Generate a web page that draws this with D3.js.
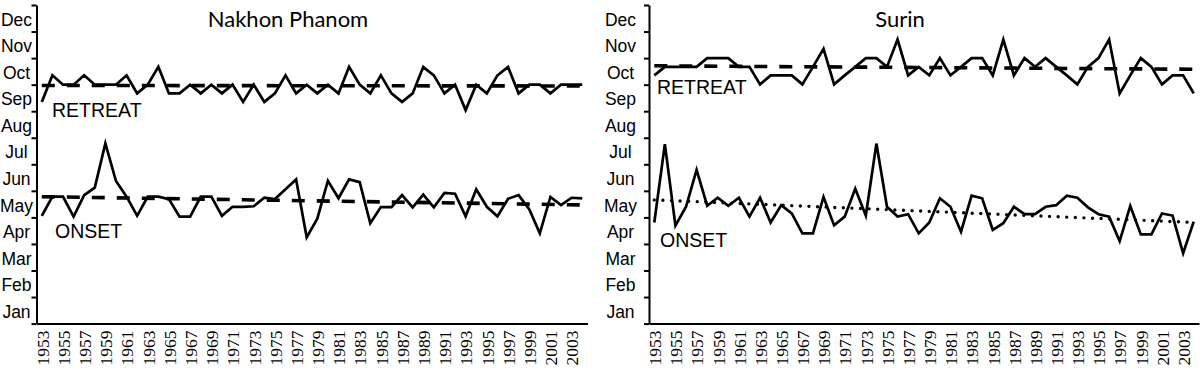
<!DOCTYPE html>
<html><head><meta charset="utf-8">
<script src="https://cdn.jsdelivr.net/npm/d3@7"></script>
<style>body{margin:0;background:#fff}svg{display:block}</style>
</head><body>
<svg id="c" width="1200" height="371"></svg>
<script>
const years = [1953,1954,1955,1956,1957,1958,1959,1960,1961,1962,1963,1964,1965,1966,1967,1968,1969,1970,1971,1972,1973,1974,1975,1976,1977,1978,1979,1980,1981,1982,1983,1984,1985,1986,1987,1988,1989,1990,1991,1992,1993,1994,1995,1996,1997,1998,1999,2000,2001,2002,2003,2004];
const months = ["Jan","Feb","Mar","Apr","May","Jun","Jul","Aug","Sep","Oct","Nov","Dec"];
const yearTicks = ["1953","1955","1957","1959","1961","1963","1965","1967","1969","1971","1973","1975","1977","1979","1981","1983","1985","1987","1989","1991","1993","1995","1997","1999","2001","2003"];

// values in months from 1 Jan (Jan = 0..1, Dec = 11..12)
const nakhonRetreat = [8.35,9.35,9,9,9.35,9,9,9,9.35,8.67,9,9.67,8.67,8.67,9,8.67,9,8.67,9,8.35,9,8.35,8.67,9.35,8.67,9,8.67,9,8.67,9.67,9,8.67,9.35,8.67,8.35,8.67,9.67,9.35,8.67,9,8.04,9,8.67,9.35,9.67,8.67,9,9,8.67,9,9,9];
const nakhonOnset = [4.06,4.78,4.78,4.03,4.84,5.12,6.79,5.37,4.78,4.06,4.78,4.78,4.69,4.03,4.03,4.78,4.78,4.06,4.40,4.40,4.42,4.74,4.69,5.06,5.43,3.25,3.95,5.38,4.72,5.43,5.33,3.78,4.39,4.39,4.84,4.38,4.86,4.38,4.92,4.89,4.04,5.06,4.40,4.04,4.70,4.84,4.31,3.40,4.77,4.46,4.74,4.72];
const surinRetreat = [9.35,9.67,9.67,9.67,9.67,10,10,10,9.67,9.67,9.01,9.35,9.35,9.35,9.01,9.67,10.35,9.01,9.35,9.67,10,10,9.67,10.7,9.35,9.67,9.35,10,9.35,9.67,10,10,9.35,10.7,9.35,10,9.67,10,9.67,9.35,9.01,9.67,10,10.7,8.67,9.35,10,9.67,9.01,9.35,9.35,8.67];
const surinOnset = [3.81,6.76,3.69,4.40,5.79,4.44,4.74,4.44,4.74,4.03,4.74,3.81,4.46,4.15,3.40,3.40,4.77,3.70,4.03,5.08,4.07,6.78,4.40,4.03,4.12,3.40,3.81,4.72,4.40,3.46,4.82,4.72,3.53,3.78,4.40,4.12,4.12,4.40,4.46,4.82,4.74,4.38,4.12,4.03,3.11,4.43,3.36,3.36,4.15,4.07,2.65,3.84];

const nakhonRetreatTrend = [8.97, 8.95];
const nakhonOnsetTrend = [4.78, 4.47];
const surinRetreatTrend = [9.71, 9.58];
const surinOnsetTrend = [4.66, 3.81];

const svg = d3.select("#c");
const y = d3.scaleLinear().domain([0, 12]).range([323.6, 5]);
const x1 = d3.scalePoint().domain(years).range([36.5, 587.5]).padding(0.5);
const x2 = d3.scalePoint().domain(years).range([649, 1199]).padding(0.5);

const panels = [
  {title:"Nakhon Phanom", titleX:288, x:x1, monthX:16.5, retreat:nakhonRetreat, onset:nakhonOnset,
   rt:nakhonRetreatTrend, ot:nakhonOnsetTrend, onsetStyle:"dash", rl:[52,116.7], ol:[55,238.3]},
  {title:"Surin", titleX:900, x:x2, monthX:620.5, retreat:surinRetreat, onset:surinOnset,
   rt:surinRetreatTrend, ot:surinOnsetTrend, onsetStyle:"dot", rl:[657,94], ol:[660,247]}
];

panels.forEach(p => {
  const g = svg.append("g");
  const x0 = p.x.range()[0];

  // y axis
  const ya = g.append("g").attr("transform", `translate(${x0},0)`)
    .call(d3.axisLeft(y).tickValues(d3.range(0, 13)).tickSize(5).tickSizeOuter(0).tickFormat(""));
  ya.select(".domain").attr("stroke", "#000").attr("stroke-width", 2);
  ya.selectAll(".tick line").attr("stroke", "#000").attr("stroke-width", 2);

  // month labels
  g.selectAll("text.month").data(months).join("text")
    .attr("class", "month")
    .attr("x", p.monthX)
    .attr("y", (d, i) => y(i + 0.5) + 7.4)
    .attr("text-anchor", "middle")
    .attr("font-family", "Liberation Sans, Arial, sans-serif")
    .attr("font-size", 17.5)
    .attr("fill", "#000")
    .text(d => d);

  // x axis
  const xa = g.append("g").attr("transform", `translate(0,${y(0)})`)
    .call(d3.axisBottom(p.x).tickValues(yearTicks.map(Number)).tickSize(0).tickSizeOuter(0));
  xa.select(".domain").attr("stroke", "#000").attr("stroke-width", 2);
  xa.selectAll(".tick text")
    .attr("transform", "rotate(-90)")
    .attr("text-anchor", "end")
    .attr("x", -7).attr("y", 0).attr("dy", "0.36em")
    .attr("font-family", "Liberation Serif, Times New Roman, serif")
    .attr("font-size", 17.5)
    .attr("fill", "#000");

  const line = d3.line().x(d => p.x(d.year)).y(d => y(d.v));
  const toPts = arr => arr.map((v, i) => ({year: years[i], v}));
  const trendPts = t => [{year: years[0], v: t[0]}, {year: years[years.length - 1], v: t[1]}];

  [p.retreat, p.onset].forEach(s => {
    g.append("path").datum(toPts(s)).attr("d", line)
      .attr("fill", "none").attr("stroke", "#000").attr("stroke-width", 2.7)
      .attr("stroke-linejoin", "miter");
  });

  g.append("path").datum(trendPts(p.rt)).attr("d", line)
    .attr("fill", "none").attr("stroke", "#000").attr("stroke-width", 3.6)
    .attr("stroke-dasharray", "13,12");
  const ot = g.append("path").datum(trendPts(p.ot)).attr("d", line).attr("fill", "none").attr("stroke", "#000");
  if (p.onsetStyle === "dash") {
    ot.attr("stroke-width", 3.6).attr("stroke-dasharray", "13,12");
  } else {
    ot.attr("stroke-width", 3.4).attr("stroke-dasharray", "0,8.6").attr("stroke-linecap", "round");
  }

  // labels
  const lab = (t, pos) => g.append("text").attr("x", pos[0]).attr("y", pos[1])
    .attr("font-family", "Liberation Sans, Arial, sans-serif").attr("font-size", 19.5)
    .attr("fill", "#000").text(t);
  lab("RETREAT", p.rl);
  lab("ONSET", p.ol);

  g.append("text").attr("x", p.titleX).attr("y", 26.7).attr("text-anchor", "middle")
    .attr("font-family", "Lato, Open Sans, sans-serif").attr("font-size", 22)
    .attr("fill", "#000").text(p.title);
});
</script>
</body></html>
